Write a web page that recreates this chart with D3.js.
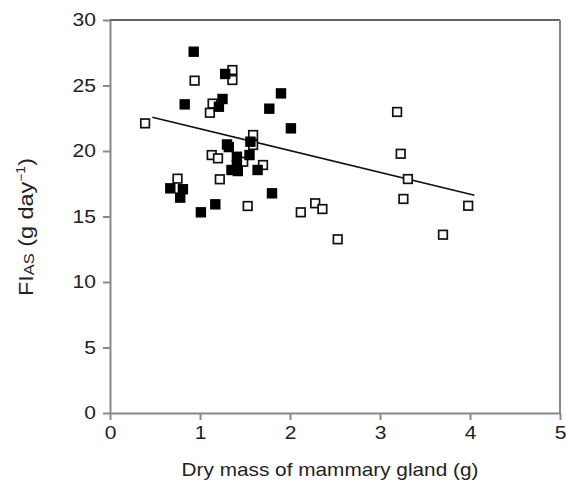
<!DOCTYPE html>
<html>
<head>
<meta charset="utf-8">
<script src="https://cdn.jsdelivr.net/npm/d3@7"></script>
<style>
  body { margin: 0; background: #fff; }
  text { font-family: "Liberation Sans", Arial, sans-serif; fill: #222; }
</style>
</head>
<body>
<div id="chart"></div>
<script>
// Data ---------------------------------------------------
// open squares
const openX = [0.39, 0.94, 1.36, 1.36, 1.14, 1.11, 1.59, 1.59, 1.13, 1.20, 1.48, 1.70, 1.22,
  0.75, 1.53, 2.12, 2.28, 2.36, 2.53, 3.19, 3.23, 3.31, 3.26, 3.98, 3.70]
const openY = [22.11, 25.37, 26.18, 25.42, 23.62, 22.92, 21.22, 20.46, 19.69, 19.44, 19.18, 18.93, 17.84,
  17.89, 15.80, 15.32, 16.01, 15.57, 13.26, 22.98, 19.79, 17.86, 16.34, 15.82, 13.61]

// filled squares
const filledX = [0.93, 1.28, 0.83, 1.25, 1.21, 1.90, 1.77, 2.01, 1.30, 1.32, 1.56, 1.41, 1.55,
  1.41, 1.35, 1.42, 1.64, 0.67, 0.81, 0.78, 1.80, 1.17, 1.01]
const filledY = [27.58, 25.88, 23.56, 23.97, 23.38, 24.40, 23.23, 21.73, 20.50, 20.30, 20.71, 19.56, 19.69,
  18.93, 18.55, 18.47, 18.55, 17.15, 17.08, 16.44, 16.77, 15.93, 15.32]

// fitted regression line (end points)
const fitX = [0.47, 4.05]
const fitY = [22.57, 16.62]

const xTicks = [0, 1, 2, 3, 4, 5]
const yTicks = [0, 5, 10, 15, 20, 25, 30]

// Canvas setup -------------------------------------------
const WIDTH = 567
const HEIGHT = 480
const MARGIN = {LEFT: 110, RIGHT: 7, TOP: 20, BOTTOM: 67}
const AXIS_COLOR = "#888"
const STRETCH = 1.17   // text is a little wider than plain Arial

const svg = d3.select("#chart").append("svg")
  .attr("width", WIDTH)
  .attr("height", HEIGHT)

// Scales -------------------------------------------------
const xScale = d3.scaleLinear()
  .domain([0, 5])
  .range([MARGIN.LEFT, WIDTH - MARGIN.RIGHT])

const yScale = d3.scaleLinear()
  .domain([0, 30])
  .range([HEIGHT - MARGIN.BOTTOM, MARGIN.TOP])

// Axes ---------------------------------------------------
svg.append("g")
  .attr("class", "x-axis")
  .attr("transform", `translate(0,${yScale(0)})`)
  .call(d3.axisBottom(xScale).tickValues(xTicks).tickFormat(d3.format("d"))
    .tickSize(7).tickSizeOuter(0).tickPadding(6))

svg.append("g")
  .attr("class", "y-axis")
  .attr("transform", `translate(${xScale(0)},0)`)
  .call(d3.axisLeft(yScale).tickValues(yTicks).tickFormat(d3.format("d"))
    .tickSize(7).tickSizeOuter(0).tickPadding(4))

svg.selectAll(".domain, .tick line")
  .attr("stroke", AXIS_COLOR)
  .attr("stroke-width", 2)

svg.selectAll(".tick text")
  .attr("font-size", "18px")
  .attr("font-family", "Liberation Sans, Arial, sans-serif")
  .attr("fill", "#222")
  .attr("transform", `scale(${STRETCH},1)`)

svg.selectAll(".y-axis .tick text")
  .attr("x", -14 / STRETCH)

// top and right frame
svg.append("line")
  .attr("x1", xScale(0)).attr("x2", xScale(5))
  .attr("y1", yScale(30)).attr("y2", yScale(30))
  .attr("stroke", "#666")
  .attr("stroke-width", 2)

svg.append("line")
  .attr("x1", xScale(5)).attr("x2", xScale(5))
  .attr("y1", yScale(30)).attr("y2", yScale(0))
  .attr("stroke", AXIS_COLOR)
  .attr("stroke-width", 2)

// Labels -------------------------------------------------
svg.append("text")
  .attr("transform", `translate(330,476) scale(1.155,1)`)
  .attr("text-anchor", "middle")
  .attr("font-size", "18px")
  .text("Dry mass of mammary gland (g)")

const yLabel = svg.append("text")
  .attr("transform", `translate(33,227) rotate(-90) scale(${STRETCH},1)`)
  .attr("text-anchor", "middle")
  .attr("font-size", "20px")

yLabel.append("tspan").text("FI")
yLabel.append("tspan").attr("font-size", "14px").attr("dy", 1).text("AS")
yLabel.append("tspan").attr("dy", -1).text(" (g day")
yLabel.append("tspan").attr("font-size", "12px").attr("dy", -8).text("\u22121")
yLabel.append("tspan").attr("dy", 8).text(")")

// Regression line ----------------------------------------
const line = d3.line()
  .x(d => xScale(d[0]))
  .y(d => yScale(d[1]))

svg.append("path")
  .attr("d", line(d3.zip(fitX, fitY)))
  .attr("fill", "none")
  .attr("stroke", "#111")
  .attr("stroke-width", 1.6)

// Points -------------------------------------------------
const OPEN_SIDE = 8.6
const FILLED_SIDE = 10.4

svg.append("g")
  .attr("class", "open")
  .selectAll("rect")
  .data(d3.zip(openX, openY))
  .join("rect")
    .attr("x", d => xScale(d[0]) - OPEN_SIDE / 2)
    .attr("y", d => yScale(d[1]) - OPEN_SIDE / 2)
    .attr("width", OPEN_SIDE)
    .attr("height", OPEN_SIDE)
    .attr("fill", "#fff")
    .attr("stroke", "#111")
    .attr("stroke-width", 1.7)

svg.append("g")
  .attr("class", "filled")
  .selectAll("rect")
  .data(d3.zip(filledX, filledY))
  .join("rect")
    .attr("x", d => xScale(d[0]) - FILLED_SIDE / 2)
    .attr("y", d => yScale(d[1]) - FILLED_SIDE / 2)
    .attr("width", FILLED_SIDE)
    .attr("height", FILLED_SIDE)
    .attr("fill", "#000")
</script>
</body>
</html>
